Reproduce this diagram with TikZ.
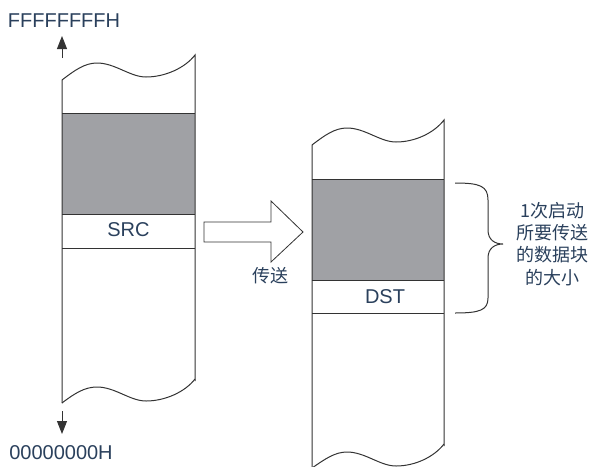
\documentclass[tikz,border=0pt]{standalone}
\usepackage{fontspec}
\setmainfont{Liberation Sans}
\newfontfamily\cjk{Noto Sans CJK SC}
\usetikzlibrary{arrows.meta}
\definecolor{txt}{HTML}{2A405C}
\definecolor{blk}{HTML}{A0A1A5}
\definecolor{ln}{HTML}{333333}
\tikzset{
  lbl/.style={text=txt, font=\fontsize{20}{24}\selectfont, inner sep=0pt},
  cjklbl/.style={text=txt, font=\cjk\fontsize{18}{22.3}\selectfont, inner sep=0pt, align=center},
  edge/.style={draw=ln, line width=1pt},
  addr/.style={draw=ln, line width=1pt, -{Triangle[length=13pt,width=10pt]}},
}
\begin{document}
\begin{tikzpicture}[x=1pt,y=-1pt]
\useasboundingbox (0,0) rectangle (591,466);
% left column
\fill[blk] (62,113) rectangle (195,214);
\draw[edge] (62,113) -- (195,113);
\draw[edge] (62,214) -- (195,214);
\draw[edge] (62,248) -- (195,248);
\draw[edge] (62,403) -- (62,80)
  .. controls (75,70) and (85,63) .. (97,63)
  .. controls (115,63) and (130,77) .. (146,77)
  .. controls (165,77) and (185,68) .. (195,55) -- (195,381);
\draw[edge] (62,403)
  .. controls (75,393) and (85,387) .. (97,387)
  .. controls (115,387) and (130,401) .. (146,401)
  .. controls (165,401) and (185,392) .. (195,379);
\node[lbl] (src) at (128.5,230) {SRC};
% right column
\begin{scope}
\clip (0,0) rectangle (591,466);
\fill[blk] (312,179) rectangle (444,280);
\draw[edge] (312,179) -- (444,179);
\draw[edge] (312,280) -- (444,280);
\draw[edge] (312,313) -- (444,313);
\draw[edge] (312,470) -- (312,145)
  .. controls (325,135) and (335,128) .. (347,128)
  .. controls (365,128) and (380,142) .. (396,142)
  .. controls (415,142) and (434,133) .. (444,120) -- (444,446);
\draw[edge] (312,468)
  .. controls (325,459) and (335,452) .. (347,452)
  .. controls (365,452) and (380,466) .. (396,466)
  .. controls (415,466) and (434,457) .. (444,444);
\end{scope}
\node[lbl] (dst) at (385,297) {DST};
% transfer arrow
\draw[edge, line width=0.8pt, fill=white] (204,222) -- (271,222) -- (271,201) -- (303,232) -- (271,262) -- (271,242) -- (204,242) -- cycle;
\node[cjklbl] (xfer) at (270,276) {传送};
% address arrows
\coordinate (upS) at (62,58);
\coordinate (upE) at (62,36);
\draw[addr] (upS) -- (upE);
\node[lbl] (ffh) at (64,20.5) {FFFFFFFFH};
\coordinate (dnS) at (62,411);
\coordinate (dnE) at (62,434);
\draw[addr] (dnS) -- (dnE);
\node[lbl] (zh) at (61,452.5) {00000000H};
% brace
\draw[edge] (455,183) .. controls (480,183) and (488,186) .. (488,200) -- (488,230)
  .. controls (488,240) and (495,244) .. (503,244)
  .. controls (495,244) and (488,248) .. (488,258) -- (488,298)
  .. controls (488,310) and (480,313) .. (455,313);
\node[cjklbl] (note) at (552,244) {1次启动\\所要传送\\的数据块\\的大小};
\end{tikzpicture}
\end{document}
